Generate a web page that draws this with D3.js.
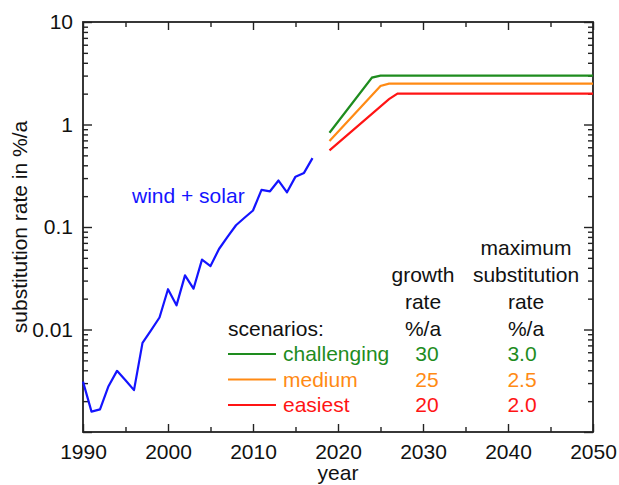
<!DOCTYPE html>
<html>
<head>
<meta charset="utf-8">
<script src="https://cdn.jsdelivr.net/npm/d3@7/dist/d3.min.js"></script>
<style>
  body { margin: 0; background: #fff; }
  svg text { font-family: "Liberation Sans", Arial, sans-serif; }
</style>
</head>
<body>
<svg id="chart" width="619" height="485"></svg>
<script>
// wind + solar history (year, substitution rate in %/a)
var windSolarYears = [1990, 1991, 1992, 1993, 1994, 1995, 1996, 1997, 1998, 1999,
  2000, 2001, 2002, 2003, 2004, 2005, 2006, 2007, 2008, 2009,
  2010, 2011, 2012, 2013, 2014, 2015, 2016, 2017]
var windSolarRates = [0.0031, 0.00158, 0.00166, 0.0028, 0.00395, 0.0032, 0.00256, 0.0074, 0.0098, 0.0131,
  0.0247, 0.0172, 0.0337, 0.025, 0.048, 0.0416, 0.061, 0.080, 0.104, 0.123,
  0.145, 0.230, 0.223, 0.284, 0.218, 0.31, 0.337, 0.47]

// scenario curves (break points)
var challengingYears = [2019, 2024, 2025, 2050]
var challengingRates = [0.83, 2.87, 3.0, 3.0]
var mediumYears = [2019, 2025, 2026, 2050]
var mediumRates = [0.69, 2.38, 2.5, 2.5]
var easiestYears = [2019, 2026, 2027, 2050]
var easiestRates = [0.56, 1.77, 2.0, 2.0]

// legend table
var scenarioNames = ['challenging', 'medium', 'easiest']
var scenarioColors = ['#1e8c1e', '#ff8a14', '#ff1414']
var growthRates = ['30', '25', '20']
var maxRates = ['3.0', '2.5', '2.0']

// tick labels
var xTickValues = [1990, 2000, 2010, 2020, 2030, 2040, 2050]
var xMinorValues = [1995, 2005, 2015, 2025, 2035, 2045]
var yTickValues = [0.001, 0.01, 0.1, 1, 10]
var yTickLabels = ['', '0.01', '0.1', '1', '10']

var svg = d3.select('#chart')
var margin = {top: 22, right: 26, bottom: 53, left: 83}
var width = 619 - margin.left - margin.right
var height = 485 - margin.top - margin.bottom

var x = d3.scaleLinear().domain([1990, 2050]).range([0, width])
var y = d3.scaleLog().domain([0.001, 10]).range([height, 0])

var g = svg.append('g')
    .attr('transform', 'translate(' + margin.left + ',' + margin.top + ')')

var axisColor = '#222'
var fontSize = 21

// minor y ticks: 2..9 of every decade
var yMinor = y.ticks().filter(function (d) {
  var l = Math.log10(d)
  return Math.abs(l - Math.round(l)) > 1e-6
})

function styleAxis (sel) {
  sel.select('.domain').remove()
  sel.selectAll('line').attr('stroke', axisColor).attr('stroke-width', 1.4)
  sel.selectAll('text').attr('fill', '#111').style('font-size', fontSize + 'px')
}

// bottom axis
g.append('g')
    .attr('transform', 'translate(0,' + height + ')')
    .call(d3.axisBottom(x).tickValues(xTickValues).tickSize(-8).tickPadding(12)
      .tickFormat(d3.format('d')))
    .call(styleAxis)
g.append('g')
    .attr('transform', 'translate(0,' + height + ')')
    .call(d3.axisBottom(x).tickValues(xMinorValues).tickSize(-5).tickFormat(''))
    .call(styleAxis)
// top axis
g.append('g')
    .call(d3.axisTop(x).tickValues(xTickValues).tickSize(-8).tickFormat(''))
    .call(styleAxis)
g.append('g')
    .call(d3.axisTop(x).tickValues(xMinorValues).tickSize(-5).tickFormat(''))
    .call(styleAxis)

// left axis
g.append('g')
    .call(d3.axisLeft(y).tickValues(yTickValues).tickSize(-9).tickPadding(10)
      .tickFormat(function (d, i) { return yTickLabels[i] }))
    .call(styleAxis)
g.append('g')
    .call(d3.axisLeft(y).tickValues(yMinor).tickSize(-5).tickFormat(''))
    .call(styleAxis)
// right axis
g.append('g')
    .attr('transform', 'translate(' + width + ',0)')
    .call(d3.axisRight(y).tickValues(yTickValues).tickSize(-9).tickFormat(''))
    .call(styleAxis)
g.append('g')
    .attr('transform', 'translate(' + width + ',0)')
    .call(d3.axisRight(y).tickValues(yMinor).tickSize(-5).tickFormat(''))
    .call(styleAxis)

// frame
g.append('rect')
    .attr('width', width)
    .attr('height', height)
    .attr('fill', 'none')
    .attr('stroke', axisColor)
    .attr('stroke-width', 1.8)

// lines
var line = d3.line()
    .x(function (d) { return x(d[0]) })
    .y(function (d) { return y(d[1]) })

g.append('path')
    .datum(d3.zip(windSolarYears, windSolarRates))
    .attr('fill', 'none')
    .attr('stroke', '#1414ff')
    .attr('stroke-width', 2.2)
    .attr('stroke-linejoin', 'round')
    .attr('d', line)

var scenarios = [
  d3.zip(challengingYears, challengingRates),
  d3.zip(mediumYears, mediumRates),
  d3.zip(easiestYears, easiestRates)
]
scenarios.forEach(function (s, i) {
  g.append('path')
      .datum(s)
      .attr('fill', 'none')
      .attr('stroke', scenarioColors[i])
      .attr('stroke-width', 2.2)
      .attr('d', line)
})

// axis titles
svg.append('text')
    .attr('x', margin.left + width / 2)
    .attr('y', 480)
    .attr('text-anchor', 'middle')
    .attr('fill', '#111')
    .style('font-size', fontSize + 'px')
    .text('year')

svg.append('text')
    .attr('transform', 'translate(27,' + (margin.top + height / 2) + ') rotate(-90)')
    .attr('text-anchor', 'middle')
    .attr('fill', '#111')
    .style('font-size', fontSize + 'px')
    .text('substitution rate in %/a')

// series label
svg.append('text')
    .attr('x', 132)
    .attr('y', 203)
    .attr('fill', '#1414ff')
    .style('font-size', fontSize + 'px')
    .text('wind + solar')

// legend table
var col1 = 423
var col2 = 526
var header = [
  ['', 'maximum', 255],
  ['growth', 'substitution', 282],
  ['rate', 'rate', 309],
  ['%/a', '%/a', 336]
]
header.forEach(function (h) {
  svg.append('text').attr('x', col1).attr('y', h[2]).attr('text-anchor', 'middle')
      .attr('fill', '#111').style('font-size', fontSize + 'px').text(h[0])
  svg.append('text').attr('x', col2).attr('y', h[2]).attr('text-anchor', 'middle')
      .attr('fill', '#111').style('font-size', fontSize + 'px').text(h[1])
})
svg.append('text').attr('x', 228).attr('y', 336)
    .attr('fill', '#111').style('font-size', fontSize + 'px').text('scenarios:')

scenarioNames.forEach(function (name, i) {
  var base = 361 + i * 25.5
  var c = scenarioColors[i]
  svg.append('line')
      .attr('x1', 228).attr('x2', 276)
      .attr('y1', base - 7).attr('y2', base - 7)
      .attr('stroke', c).attr('stroke-width', 2.2)
  svg.append('text').attr('x', 283).attr('y', base)
      .attr('fill', c).style('font-size', fontSize + 'px').text(name)
  svg.append('text').attr('x', 427).attr('y', base).attr('text-anchor', 'middle')
      .attr('fill', c).style('font-size', fontSize + 'px').text(growthRates[i])
  svg.append('text').attr('x', 522).attr('y', base).attr('text-anchor', 'middle')
      .attr('fill', c).style('font-size', fontSize + 'px').text(maxRates[i])
})
</script>
</body>
</html>
